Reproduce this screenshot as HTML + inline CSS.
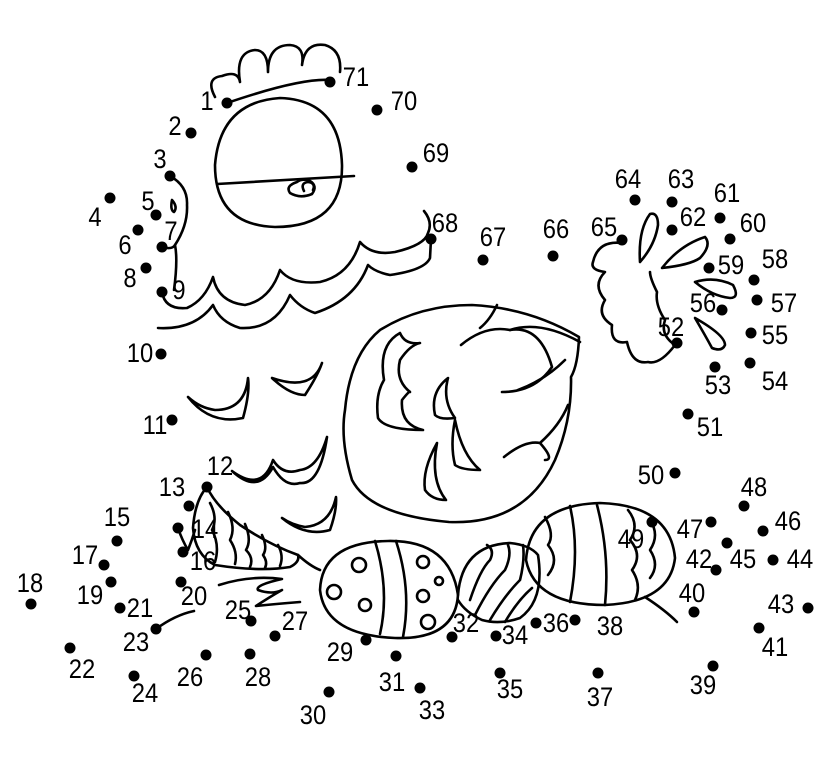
<!DOCTYPE html>
<html><head><meta charset="utf-8"><style>
html,body{margin:0;padding:0;background:#fff;}
svg{display:block;}
text{font-family:"Liberation Sans",sans-serif;font-size:27px;fill:#000;text-anchor:middle;transform:scaleX(0.88);transform-box:fill-box;transform-origin:center;}
</style></head><body>
<svg width="821" height="758" viewBox="0 0 821 758" xmlns="http://www.w3.org/2000/svg">
<g fill="none" stroke="#000" stroke-width="2.6" stroke-linecap="round" stroke-linejoin="round">
<!-- comb -->
<path d="M227,103 Q300,78 330,80"/>
<path d="M215,97 Q205,78 222,76 Q238,70 240,82 Q235,52 255,50 Q268,50 268,72 Q268,45 290,45 Q305,46 302,65 Q305,42 325,45 Q342,50 340,72"/>
<!-- head circle -->
<path d="M280,98 Q340,100 342,165 Q343,227 275,227 Q215,225 215,165 Q220,102 280,98 Z"/>
<path d="M217,184 L354,176"/>
<path d="M297,182 Q285,186 290,193 Q300,199 312,194 Q318,186 310,181 Q302,178 297,182 Z"/>
<path d="M304,191 Q300,183 308,182 Q316,183 313,190"/>
<!-- beak -->
<path d="M170,176 Q188,186 187,205 Q188,225 175,245 Q178,260 174,290"/>
<path d="M172,200 Q178,207 174,212 Q170,210 172,200 Z"/>
<path d="M162,247 Q172,250 175,245"/>
<!-- neck ruffles -->
<path d="M162,292 Q165,310 187,308 Q205,300 213,277 Q218,302 245,305 Q270,300 280,270 Q292,285 320,282 Q350,275 360,242 Q372,256 395,252 Q425,245 428,233 Q433,222 424,211"/>
<path d="M431,239 L430,258 Q425,270 390,275 Q375,272 368,265 Q355,300 315,313 Q300,308 290,295 Q275,330 240,328 Q220,322 213,305 Q195,330 158,328"/>
<!-- body feathers -->
<path d="M188,397 Q210,425 243,418 Q250,393 248,378 Q245,410 215,410 Q200,408 188,397 Z"/>
<path d="M272,378 Q290,395 305,395 Q318,375 322,363 Q312,392 272,378 Z"/>
<path d="M232,471 Q262,493 273,460 Q283,476 300,470 Q318,468 327,437 Q320,485 300,483 Q285,488 273,467 Q258,495 232,471 Z"/>
<path d="M282,518 Q305,537 330,530 Q337,510 336,497 Q330,525 305,527 Q292,525 282,518 Z"/>
<!-- wing -->
<path d="M380,330 Q420,305 472,305 Q530,308 579,337 Q578,365 571,377 Q572,420 555,460 Q525,525 449,522 Q370,515 352,480 Q340,440 345,410 Q350,355 380,330 Z"/>
<path d="M461,345 Q485,325 510,330 Q540,325 552,367 Q535,392 502,392"/>
<path d="M480,328 Q490,320 497,305"/>
<path d="M510,330 Q540,320 580,342"/>
<path d="M518,390 Q545,380 565,360"/>
<path d="M504,457 Q525,440 540,443 Q555,460 545,460"/>
<path d="M540,443 Q560,425 568,405"/>
<path d="M400,333 Q378,345 384,380 Q375,395 378,418 Q385,430 423,430 Q400,425 402,400 Q410,390 410,392 Q395,380 400,360 Q410,345 420,343 Q405,345 400,333 Z"/>
<path d="M448,378 Q430,392 435,415 Q440,420 455,418 Q442,400 448,378 Z"/>
<path d="M455,420 Q450,445 455,465 Q462,470 480,470 Q462,455 455,420 Z"/>
<path d="M437,443 Q422,470 425,490 Q432,500 446,500 Q430,480 437,443 Z"/>
<!-- tail -->
<path d="M622,243 Q598,240 593,262 Q590,270 605,272 Q592,285 605,300 Q596,315 612,325 Q610,345 627,342 Q632,365 648,362 Q660,365 675,345 Q660,335 665,320 Q655,305 657,292 Q650,278 650,272"/>
<path d="M640,262 Q638,230 650,214 Q658,212 658,225 Q655,245 640,262 Z"/>
<path d="M662,268 Q680,245 705,237 Q712,245 700,258 Q690,265 662,268 Z"/>
<path d="M695,282 Q715,276 733,285 Q740,298 730,298 Q712,296 695,282 Z"/>
<path d="M695,318 Q705,335 712,348 Q722,352 725,345 Q725,335 695,318 Z"/>
<!-- left egg -->
<path d="M207,487 Q195,500 193,528 Q195,555 215,565 Q260,572 290,567 Q300,562 298,555 Q270,545 240,525 Q215,505 207,487 Z"/>
<path d="M210,503 Q218,518 212,530 Q220,545 215,562"/>
<path d="M228,512 Q236,528 230,540 Q238,552 235,564"/>
<path d="M245,524 Q252,540 246,550 Q254,558 250,567"/>
<path d="M262,535 Q268,548 263,555 Q268,562 265,568"/>
<path d="M278,545 Q284,556 280,566"/>
<path d="M298,555 Q310,566 320,570"/>
<path d="M178,528 Q182,540 188,550 Q192,540 195,530"/>
<!-- ground -->
<path d="M219,585 Q250,575 282,579 Q255,585 258,590 Q272,595 282,590 Q268,598 256,606 Q275,604 300,602"/>
<path d="M156,629 Q175,615 194,611"/>
<!-- egg 1 -->
<path d="M388,541 Q450,540 458,595 Q455,640 395,638 Q325,635 320,590 Q322,542 388,541 Z"/>
<path d="M375,541 Q390,590 380,634"/>
<path d="M396,541 Q412,590 403,637"/>
<circle cx="359" cy="565" r="7"/><circle cx="334" cy="592" r="7"/><circle cx="365" cy="605" r="6"/><circle cx="423" cy="562" r="6"/><circle cx="439" cy="581" r="4"/><circle cx="423" cy="596" r="6"/><circle cx="428" cy="622" r="7"/>
<!-- egg 2 -->
<path d="M458,595 Q462,545 510,543 Q530,545 538,555 Q545,600 520,618 Q500,625 482,620 Q465,612 458,600"/>
<path d="M470,600 Q480,570 490,560 Q495,550 487,545"/>
<path d="M475,615 Q490,585 505,570 Q512,555 508,545"/>
<path d="M490,620 Q505,595 520,580 Q525,560 523,545"/>
<path d="M505,622 Q518,600 532,588"/>
<!-- egg 3 -->
<path d="M600,503 Q670,505 675,558 Q670,602 605,605 Q535,605 526,560 Q530,505 600,503 Z"/>
<path d="M570,506 Q580,550 570,602"/>
<path d="M597,505 Q610,555 605,605"/>
<path d="M545,517 Q555,535 548,545 Q560,560 548,575"/>
<path d="M628,510 Q640,525 630,540 Q643,555 632,570 Q642,585 635,600"/>
<path d="M650,520 Q660,535 650,550 Q660,565 650,578"/>
<path d="M645,597 Q665,610 677,622"/>
</g>
<g fill="#000">
<circle cx="227" cy="103" r="5.5"/><circle cx="330" cy="82" r="5.5"/><circle cx="377" cy="110" r="5.5"/><circle cx="191" cy="133" r="5.5"/><circle cx="412" cy="167" r="5.5"/><circle cx="170" cy="176" r="5.5"/><circle cx="110" cy="198" r="5.5"/><circle cx="156" cy="215" r="5.5"/><circle cx="138" cy="230" r="5.5"/><circle cx="162" cy="247" r="5.5"/><circle cx="146" cy="268" r="5.5"/><circle cx="162" cy="292" r="5.5"/><circle cx="431" cy="239" r="5.5"/><circle cx="483" cy="260" r="5.5"/><circle cx="553" cy="256" r="5.5"/><circle cx="622" cy="240" r="5.5"/><circle cx="635" cy="200" r="5.5"/><circle cx="672" cy="202" r="5.5"/><circle cx="672" cy="230" r="5.5"/><circle cx="720" cy="218" r="5.5"/><circle cx="730" cy="239" r="5.5"/><circle cx="709" cy="268" r="5.5"/><circle cx="754" cy="280" r="5.5"/><circle cx="757" cy="300" r="5.5"/><circle cx="722" cy="310" r="5.5"/><circle cx="751" cy="333" r="5.5"/><circle cx="750" cy="363" r="5.5"/><circle cx="715" cy="367" r="5.5"/><circle cx="677" cy="343" r="5.5"/><circle cx="688" cy="414" r="5.5"/><circle cx="675" cy="473" r="5.5"/><circle cx="744" cy="506" r="5.5"/><circle cx="711" cy="522" r="5.5"/><circle cx="763" cy="531" r="5.5"/><circle cx="652" cy="522" r="5.5"/><circle cx="716" cy="570" r="5.5"/><circle cx="727" cy="543" r="5.5"/><circle cx="773" cy="560" r="5.5"/><circle cx="694" cy="612" r="5.5"/><circle cx="808" cy="608" r="5.5"/><circle cx="759" cy="628" r="5.5"/><circle cx="713" cy="666" r="5.5"/><circle cx="575" cy="620" r="5.5"/><circle cx="598" cy="673" r="5.5"/><circle cx="536" cy="623" r="5.5"/><circle cx="500" cy="673" r="5.5"/><circle cx="496" cy="636" r="5.5"/><circle cx="420" cy="688" r="5.5"/><circle cx="452" cy="637" r="5.5"/><circle cx="396" cy="656" r="5.5"/><circle cx="329" cy="692" r="5.5"/><circle cx="366" cy="640" r="5.5"/><circle cx="250" cy="654" r="5.5"/><circle cx="275" cy="636" r="5.5"/><circle cx="206" cy="655" r="5.5"/><circle cx="251" cy="621" r="5.5"/><circle cx="134" cy="676" r="5.5"/><circle cx="156" cy="629" r="5.5"/><circle cx="70" cy="648" r="5.5"/><circle cx="120" cy="608" r="5.5"/><circle cx="181" cy="582" r="5.5"/><circle cx="111" cy="582" r="5.5"/><circle cx="31" cy="604" r="5.5"/><circle cx="104" cy="565" r="5.5"/><circle cx="183" cy="552" r="5.5"/><circle cx="117" cy="541" r="5.5"/><circle cx="178" cy="528" r="5.5"/><circle cx="189" cy="506" r="5.5"/><circle cx="207" cy="487" r="5.5"/><circle cx="172" cy="420" r="5.5"/><circle cx="161" cy="354" r="5.5"/>
</g>
<g>
<text x="207" y="110">1</text><text x="356" y="86">71</text><text x="404" y="110">70</text><text x="175" y="135">2</text><text x="436" y="162">69</text><text x="160" y="168">3</text><text x="95" y="226">4</text><text x="148" y="210">5</text><text x="125" y="254">6</text><text x="171" y="240">7</text><text x="130" y="287">8</text><text x="179" y="299">9</text><text x="445" y="232">68</text><text x="493" y="246">67</text><text x="556" y="238">66</text><text x="604" y="236">65</text><text x="628" y="188">64</text><text x="681" y="188">63</text><text x="693" y="226">62</text><text x="727" y="202">61</text><text x="753" y="232">60</text><text x="731" y="274">59</text><text x="775" y="268">58</text><text x="784" y="312">57</text><text x="703" y="312">56</text><text x="775" y="344">55</text><text x="775" y="390">54</text><text x="718" y="394">53</text><text x="671" y="336">52</text><text x="710" y="436">51</text><text x="651" y="484">50</text><text x="754" y="496">48</text><text x="690" y="538">47</text><text x="788" y="530">46</text><text x="631" y="548">49</text><text x="699" y="568">42</text><text x="743" y="568">45</text><text x="800" y="568">44</text><text x="692" y="602">40</text><text x="781" y="613">43</text><text x="775" y="656">41</text><text x="703" y="694">39</text><text x="610" y="635">38</text><text x="600" y="706">37</text><text x="556" y="632">36</text><text x="510" y="698">35</text><text x="515" y="644">34</text><text x="432" y="719">33</text><text x="466" y="632">32</text><text x="392" y="691">31</text><text x="313" y="724">30</text><text x="340" y="661">29</text><text x="258" y="686">28</text><text x="295" y="630">27</text><text x="190" y="686">26</text><text x="238" y="619">25</text><text x="145" y="702">24</text><text x="136" y="651">23</text><text x="82" y="678">22</text><text x="140" y="617">21</text><text x="194" y="605">20</text><text x="90" y="604">19</text><text x="30" y="592">18</text><text x="85" y="564">17</text><text x="203" y="570">16</text><text x="117" y="526">15</text><text x="205" y="538">14</text><text x="172" y="496">13</text><text x="220" y="475">12</text><text x="155" y="434">11</text><text x="140" y="362">10</text>
</g>
</svg>
</body></html>
